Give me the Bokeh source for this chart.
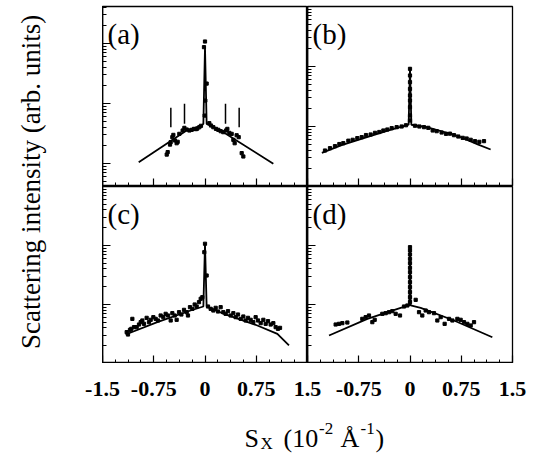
import math
from bokeh.plotting import figure
from bokeh.layouts import row, column
from bokeh.models import Range1d, SingleIntervalTicker, LogTicker, CustomJSTickFormatter, Label
from bokeh.core.properties import value
from bokeh.embed import file_html
from bokeh.resources import INLINE

# ---------------- data (S_x in 1e-2 1/Angstrom, intensity in arb. units) ----------------
a_fit_x = [-0.97, -0.27, -0.05, -0.024, 0.0, 0.024, 0.073, 0.27, 1.0]
a_fit_y = [10.5, 35.5, 43.0, 45.8, 868, 45.8, 43.0, 33.3, 9.9]
a_pts_x = [-0.56, -0.546, -0.512, -0.502, -0.478, -0.463, -0.439, -0.415, -0.40, -0.376,
           -0.327, -0.302, -0.268, -0.229, -0.195, -0.161, -0.132, -0.112, -0.083, -0.059,
           0.063, 0.088, 0.122, 0.161, 0.195, 0.229, 0.268, 0.307, 0.327, 0.356,
           0.39, 0.415, 0.434, 0.463, 0.493, 0.537, 0.561,
           -0.015, 0.0, 0.024, 0.005, -0.005]
a_pts_y = [14.1, 15.5, 20.7, 22.7, 27.5, 30.0, 24.2, 21.8, 23.0, 31.2,
           35.5, 39.3, 36.9, 35.5, 36.4, 37.8, 37.4, 38.3, 40.3, 42.5,
           47.0, 43.0, 40.3, 37.8, 36.4, 34.6, 33.3, 35.5, 37.8, 32.4,
           31.2, 24.8, 21.8, 29.6, 27.5, 14.9, 13.1,
           870, 1080, 215, 112, 63]
a_mark_x = [-0.5, -0.3, 0.3, 0.5]
a_mark_lo = [40.3, 45.8, 45.8, 40.3]
a_mark_hi = [84.8, 98.7, 98.7, 84.8]

b_fit_x = [-1.29, -1.0, -0.63, -0.3, -0.146, -0.02, 0.0, 0.02, 0.244, 0.683, 1.0, 1.18]
b_fit_y = [3.64, 4.9, 6.64, 8.7, 9.75, 10.7, 97.5, 10.7, 9.75, 7.08, 5.0, 4.14]
b_pts_x = [-1.244, -1.171, -1.098, -1.034, -0.976, -0.902, -0.839, -0.771, -0.707, -0.644,
           -0.576, -0.512, -0.449, -0.39, -0.332, -0.268, -0.195, -0.122, -0.059,
           0.073, 0.137, 0.205, 0.268, 0.332, 0.39, 0.463, 0.527, 0.585, 0.644,
           0.707, 0.771, 0.829, 0.888, 0.951, 1.015, 1.083,
           0.0, 0.0, 0.0, 0.0, 0.0, 0.0, 0.0, 0.0, 0.0]
b_pts_y = [3.98, 4.35, 4.7, 5.1, 5.27, 5.8, 6.0, 6.4, 6.64, 7.2,
           7.36, 7.84, 8.1, 8.58, 8.91, 9.38, 9.75, 10.0, 10.5,
           10.3, 10.0, 9.75, 9.5, 8.58, 8.36, 7.94, 7.55, 7.6, 7.17,
           6.81, 6.47, 6.31, 6.0, 5.7, 5.55, 5.7,
           91.4, 70.8, 54.8, 42.4, 32.9, 27.1, 21.0, 15.3, 12.6]

c_fit_x = [-1.161, -0.698, -0.21, -0.024, 0.0, 0.024, 0.278, 0.766, 1.059, 1.229]
c_fit_y = [3.1, 5.02, 7.91, 9.25, 107, 9.25, 6.95, 4.41, 3.18, 2.02]
c_pts_x = [-1.146, -1.127, -1.098, -1.078, -1.063, -1.039, -1.0, -0.966, -0.941, -0.917,
           -0.893, -0.854, -0.82, -0.795, -0.756, -0.722, -0.688, -0.649, -0.61, -0.576,
           -0.541, -0.502, -0.478, -0.444, -0.415, -0.38, -0.346, -0.307, -0.268, -0.249,
           -0.22, -0.185, -0.151, -0.122, -0.088, -0.063, -0.039,
           0.044, 0.083, 0.122, 0.156, 0.19, 0.229, 0.268, 0.302, 0.337, 0.376,
           0.415, 0.449, 0.483, 0.522, 0.561, 0.595, 0.629, 0.668, 0.707, 0.741,
           0.776, 0.815, 0.854, 0.888, 0.922, 0.961, 1.0, 1.034, 1.068, 1.098,
           0.0, -0.01, 0.024]
c_pts_y = [3.4, 3.1, 3.72, 3.87, 5.71, 4.13, 4.13, 4.58, 5.02, 5.36,
           4.7, 5.94, 5.02, 5.5, 6.1, 5.71, 5.36, 6.51, 6.1, 6.95,
           6.51, 5.36, 7.13, 6.51, 5.5, 7.41, 6.77, 8.12, 7.41, 6.51,
           9.01, 8.45, 10.0, 9.25, 10.96, 12.5, 13.3,
           9.25, 8.45, 7.91, 8.78, 7.61, 9.01, 7.41, 6.95, 7.71, 6.51,
           7.13, 6.1, 6.77, 5.71, 6.26, 5.36, 5.94, 5.5, 5.02, 6.1,
           5.36, 4.83, 5.5, 4.7, 5.22, 4.58, 4.83, 4.13, 3.87, 4.02,
           107, 77, 31]

d_fit_x = [-1.185, -0.624, -0.137, -0.01, 0.0, 0.01, 0.156, 0.644, 1.205]
d_fit_y = [2.98, 5.71, 8.78, 9.62, 93.7, 9.62, 8.78, 5.36, 2.79]
d_pts_x = [-1.088, -1.039, -0.99, -0.917, -0.698, -0.649, -0.6, -0.551, -0.517, -0.405,
           -0.356, -0.307, -0.259, -0.21, -0.146, -0.088, -0.039,
           0.083, 0.132, 0.18, 0.229, 0.278, 0.351, 0.4, 0.449, 0.507, 0.571,
           0.62, 0.693, 0.741, 0.79, 0.839, 0.888, 0.937,
           0.0, 0.0, 0.0, 0.0, 0.0, 0.0, 0.0, 0.0, 0.0, 0.0, 0.0, 0.0, 0.0]
d_pts_y = [4.58, 4.7, 4.83, 4.95, 5.71, 6.1, 6.51, 5.02, 5.5, 6.95,
           7.13, 7.41, 7.71, 6.95, 6.51, 9.25, 9.62,
           12.0, 7.41, 6.51, 7.91, 7.41, 7.13, 5.36, 6.1, 4.7, 5.71,
           5.36, 5.71, 5.5, 5.02, 4.7, 4.41, 5.02,
           93.7, 82.3, 70.4, 59.4, 50.2, 41.8, 35.3, 29.1, 23.9, 19.7, 16.2, 13.3, 11.0]

x_ticks_left = [-1.5, -0.75, 0, 0.75, 1.5]
x_labels_left = ["-1.5", "-0.75", "0", "0.75", "1.5"]
x_ticks_right = [-0.75, 0, 0.75, 1.5]
x_labels_right = ["-0.75", "0", "0.75", "1.5"]
panel_letters = ["(a)", "(b)", "(c)", "(d)"]
y_title = "Scattering intensity  (arb. units)"
x_title_parts = ["S", "X", "(10", "-2", "Å", "-1", ")"]

# ---------------- layout constants ----------------
SERIF = "Liberation Serif"
FW = 205              # frame width of each panel (px)
LEFT = 102            # left margin (px)
RIGHT = 22
TOP = 6
H_TOP = 180
H_BOT = 177
TICKS_H = 44          # strip holding x tick labels
TITLE_H = 47          # strip holding x title
W = 534
PXU = FW / 3.0        # px per x unit


def make_panel(fx, fy, px, py, ylo, yhi, letter, fh, top, right):
    p = figure(frame_width=FW, frame_height=fh, x_range=Range1d(-1.5, 1.5),
               y_range=Range1d(ylo, yhi), y_axis_type="log",
               output_backend="svg", toolbar_location=None,
               min_border_left=0, min_border_right=right, min_border_top=top,
               min_border_bottom=0, background_fill_color="white")
    p.xgrid.visible = False
    p.ygrid.visible = False
    p.outline_line_color = "black"
    p.outline_line_width = 1.3
    p.xaxis.ticker = SingleIntervalTicker(interval=0.75, num_minor_ticks=4)
    p.yaxis.ticker = LogTicker(num_minor_ticks=10)
    for ax in (p.xaxis[0], p.yaxis[0]):
        ax.major_tick_in = 8
        ax.major_tick_out = 0
        ax.minor_tick_in = 4
        ax.minor_tick_out = 0
        ax.major_tick_line_width = 1.2
        ax.minor_tick_line_width = 1
        ax.axis_line_width = 1.6
        ax.major_label_standoff = 0
        ax.major_label_text_font_size = "0px"
        ax.major_label_text_color = None
        ax.formatter = CustomJSTickFormatter(code="return ''")
    p.line(fx, fy, line_color="black", line_width=1.8)
    p.scatter(px, py, marker="square", size=3.2, fill_color="black", line_color="black")
    decades = math.log10(yhi / ylo)
    ppd = fh / decades
    p.add_layout(Label(x=-1.5 + 5.0 / PXU, y=yhi / 10 ** (27.0 / ppd), text=letter,
                       text_font=SERIF, text_font_size="29px", text_color="black",
                       text_baseline="alphabetic", text_align="left"))
    return p


pa = make_panel(a_fit_x, a_fit_y, a_pts_x, a_pts_y, 4.14, 4140, panel_letters[0], H_TOP, TOP, 0)
pa.segment(x0=a_mark_x, y0=a_mark_lo, x1=a_mark_x, y1=a_mark_hi, line_color="black", line_width=1.5)
pb = make_panel(b_fit_x, b_fit_y, b_pts_x, b_pts_y, 1, 1000, panel_letters[1], H_TOP, TOP, RIGHT)
pc = make_panel(c_fit_x, c_fit_y, c_pts_x, c_pts_y, 1, 1000, panel_letters[2], H_BOT, 0, 0)
pd = make_panel(d_fit_x, d_fit_y, d_pts_x, d_pts_y, 1, 1000, panel_letters[3], H_BOT, 0, RIGHT)


def blank(width, height, xr, yr):
    f = figure(width=width, height=height, x_range=xr, y_range=yr,
               output_backend="svg", toolbar_location=None,
               min_border=0, x_axis_location=None, y_axis_location=None)
    f.xgrid.visible = False
    f.ygrid.visible = False
    f.outline_line_color = None
    return f


# left strip with y title
panel_h = TOP + H_TOP + H_BOT
ylab = blank(LEFT, panel_h, Range1d(0, LEFT), Range1d(0, panel_h))
ylab.add_layout(Label(x=30, y=panel_h - 178, text=y_title, angle=math.pi / 2,
                      text_font=SERIF, text_font_size="27px", text_align="center",
                      text_baseline="middle", text_color="black"))

# strip with x tick labels (y measured downward from the strip top)
xr = Range1d(-1.5 - LEFT / PXU, -1.5 + (W - LEFT) / PXU)
ticks = blank(W, TICKS_H, xr, Range1d(TICKS_H, 0))
ticks.extra_x_ranges = {"right": Range1d(xr.start - 3.0, xr.end - 3.0)}
lab_y = 388 - panel_h
ticks.text(x=x_ticks_left, y=[lab_y] * len(x_ticks_left), text=x_labels_left,
           text_font=value(SERIF), text_font_style="bold", text_font_size="22px",
           text_align="center", text_baseline="alphabetic", text_color="black")
ticks.text(x=x_ticks_right, y=[lab_y] * len(x_ticks_right), text=x_labels_right,
           x_range_name="right",
           text_font=value(SERIF), text_font_style="bold", text_font_size="22px",
           text_align="center", text_baseline="alphabetic", text_color="black")

# strip with x title: S_X (10^-2 Å^-1)
title_top = panel_h + TICKS_H
tstrip = blank(W, TITLE_H, Range1d(0, W), Range1d(TITLE_H, 0))
pos = [(244, 438, "26px"), (260, 443, "17px"), (283, 438, "26px"),
       (318.5, 428, "17px"), (340, 438, "26px"), (360, 428, "17px"), (375, 438, "26px")]
for t, (x, y, s) in zip(x_title_parts, pos):
    tstrip.text(x=[x], y=[y - title_top], text=[t],
                text_font=value(SERIF), text_font_size=s, text_align="left",
                text_baseline="alphabetic", text_color="black")

layout = column(row(ylab, column(row(pa, pb), row(pc, pd))), ticks, tstrip)
open("out.html", "w").write(file_html(layout, INLINE))
